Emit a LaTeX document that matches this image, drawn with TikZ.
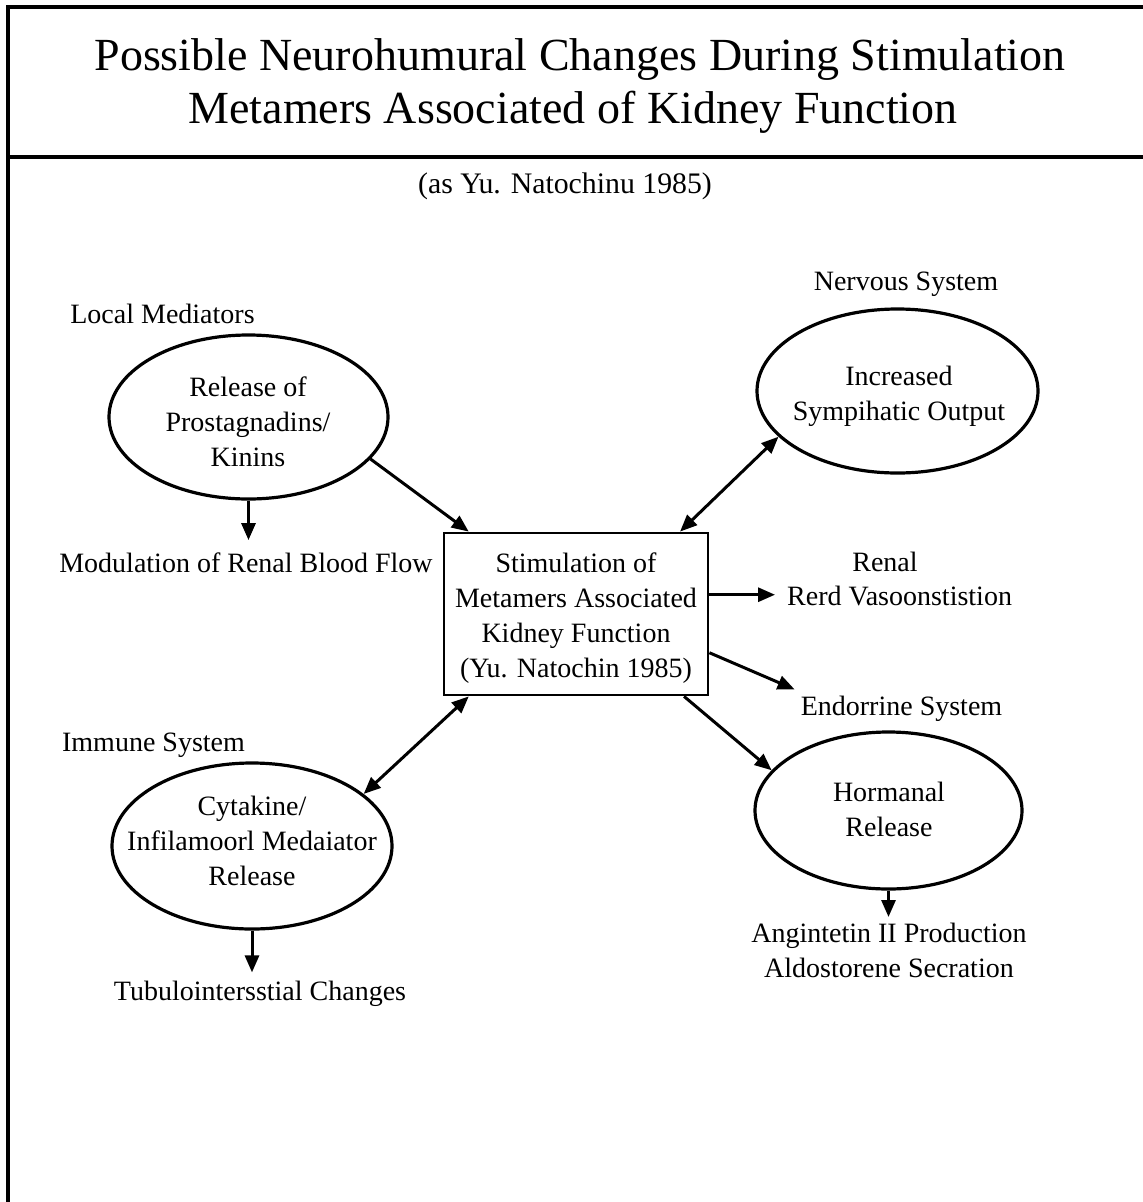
\documentclass[tikz,border=0pt]{standalone}
\usepackage{fontspec}
\setmainfont{Liberation Serif}
\usetikzlibrary{shapes.geometric,arrows.meta,calc}
\begin{document}
\begin{tikzpicture}[x=1pt,y=-1pt,
  txt/.style={inner sep=0pt, font=\fontsize{28}{35}\selectfont, align=center},
  ell/.style={draw, ellipse, line width=3.2pt, inner sep=0pt},
  arr/.style={line width=3pt, -{Triangle[length=17pt,width=14pt]}},
  darr/.style={line width=3pt, {Triangle[length=17pt,width=14pt]}-{Triangle[length=17pt,width=14pt]}},
]
\useasboundingbox (0,0) rectangle (1143,1202);
\fill[white] (0,0) rectangle (1143,1202);
\draw[line width=3.2pt] (8,1210) -- (8,7) -- (1150,7);
\draw[line width=3.2pt] (8,157) -- (1150,157);

% titles
\node[inner sep=0pt, font=\fontsize{46}{53}\selectfont, anchor=base] (t1) at (580,70) {Possible Neurohumural Changes During Stimulation};
\node[inner sep=0pt, font=\fontsize{46}{53}\selectfont, anchor=base] (t2) at (573,123) {Metamers Associated of Kidney Function};
\node[inner sep=0pt, font=\fontsize{29.8}{35}\selectfont, anchor=base] (sub) at (565,193) {(as Yu. Natochinu 1985)};

% local mediators
\node[txt, anchor=base] (lm) at (162.5,323) {Local Mediators};
\node[ell, minimum width=279pt, minimum height=164pt] (e1) at (248.5,417) {};
\node[txt, anchor=north] (e1t) at (248,377) {Release of\\Prostagnadins/\\Kinins};
\node[txt, anchor=base, inner ysep=12pt] (mod) at (246,572) {Modulation of Renal Blood Flow};

% central box
\node[draw, line width=2.8pt, minimum width=264pt, minimum height=162pt, inner sep=0pt] (box) at (576,614) {};
\node[txt, anchor=north] (boxt) at (576,553) {Stimulation of\\Metamers Associated\\Kidney Function\\(Yu. Natochin 1985)};

% nervous system
\node[txt, anchor=base] (ns) at (906,290) {Nervous System};
\node[ell, minimum width=281pt, minimum height=164pt] (e2) at (897.5,391) {};
\node[txt, anchor=north] (e2t) at (899,366) {Increased\\Sympihatic Output};

% renal
\node[txt, anchor=base] (renal) at (885,571) {Renal};
\node[txt, anchor=base west, inner xsep=12pt] (rv) at (775,605) {Rerd Vasoonstistion};

% endocrine
\node[txt, anchor=base, inner sep=6pt] (es) at (901.5,715) {Endorrine System};
\node[ell, minimum width=267pt, minimum height=157pt] (e3) at (888.5,810.5) {};
\node[txt, anchor=north] (e3t) at (889,782) {Hormanal\\Release};
\node[txt, anchor=north, inner ysep=6pt] (ang) at (889,917) {Angintetin II Production\\Aldostorene Secration};

% immune
\node[txt, anchor=base] (im) at (153.5,751) {Immune System};
\node[ell, minimum width=280pt, minimum height=166pt] (e4) at (252,846) {};
\node[txt, anchor=north] (e4t) at (252,796) {Cytakine/\\Infilamoorl Medaiator\\Release};
\node[txt, anchor=base, inner ysep=8pt] (tub) at (260,1000) {Tubulointersstial Changes};

% connectors
\coordinate (rvs) at ($(box.north east)!0.383!(box.south east)$);
\draw[arr] (e1.341) -- ($(box.north west)!0.098!(box.north east)$);
\draw[arr] (e1.south) -- (e1.south |- mod.north);
\draw[darr] (e2.201) -- ($(box.north west)!0.89!(box.north east)$);
\draw[arr] (rvs) -- (rvs -| rv.west);
\draw[arr] ($(box.north east)!0.735!(box.south east)$) -- (es.north west);
\draw[arr] ($(box.south west)!0.905!(box.south east)$) -- (e3.161);
\draw[arr] (e3.south) -- (e3.south |- ang.north);
\draw[darr] (e4.25) -- ($(box.south west)!0.098!(box.south east)$);
\draw[arr] (e4.south) -- (e4.south |- tub.north);
\end{tikzpicture}
\end{document}
